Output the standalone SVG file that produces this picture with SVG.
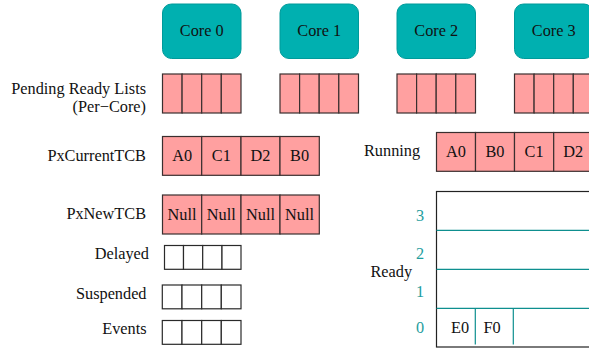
<svg xmlns="http://www.w3.org/2000/svg" width="589" height="351" viewBox="0 0 589 351">
  <style>
    text { font-family: 'Liberation Serif', 'DejaVu Serif', serif; font-size: 16.3px; fill: #111; }
    .mid { text-anchor: middle; }
    .end { text-anchor: end; }
    .idx { fill: #1f9e9e; text-anchor: middle; }
    .core { fill: #00b0b0; stroke: #009a9a; stroke-width: 1; }
    .cell { fill: #ffa0a0; stroke: #3a2f2f; stroke-width: 1.2; }
    .empty { fill: #ffffff; stroke: #2a2a2a; stroke-width: 1.2; }
    .lvl { stroke: #0e8f8f; stroke-width: 1.2; fill: none; }
    .frame { fill: #ffffff; stroke: #222; stroke-width: 1.2; }
  </style>

  <!-- CPU cores -->
  <g id="core0"><rect class="core" x="162.5" y="4" width="78.5" height="54.5" rx="9"/><text class="mid" x="201.7" y="36">Core 0</text></g>
  <g id="core1"><rect class="core" x="280" y="4" width="78.5" height="54.5" rx="9"/><text class="mid" x="319.2" y="36">Core 1</text></g>
  <g id="core2"><rect class="core" x="397" y="4" width="78.5" height="54.5" rx="9"/><text class="mid" x="436.2" y="36">Core 2</text></g>
  <g id="core3"><rect class="core" x="514.5" y="4" width="78.5" height="54.5" rx="9"/><text class="mid" x="553.7" y="36">Core 3</text></g>

  <!-- Pending ready lists, one per core -->
  <g id="pending-label">
    <text class="end" x="146" y="94">Pending Ready Lists</text>
    <text class="end" x="146" y="112">(Per−Core)</text>
  </g>
  <g id="pending0">
    <rect class="cell" x="162.5" y="74" width="19.6" height="39"/><rect class="cell" x="182.1" y="74" width="19.6" height="39"/>
    <rect class="cell" x="201.7" y="74" width="19.6" height="39"/><rect class="cell" x="221.3" y="74" width="19.7" height="39"/>
  </g>
  <g id="pending1">
    <rect class="cell" x="280" y="74" width="19.6" height="39"/><rect class="cell" x="299.6" y="74" width="19.6" height="39"/>
    <rect class="cell" x="319.2" y="74" width="19.6" height="39"/><rect class="cell" x="338.8" y="74" width="19.7" height="39"/>
  </g>
  <g id="pending2">
    <rect class="cell" x="397" y="74" width="19.6" height="39"/><rect class="cell" x="416.6" y="74" width="19.6" height="39"/>
    <rect class="cell" x="436.2" y="74" width="19.6" height="39"/><rect class="cell" x="455.8" y="74" width="19.7" height="39"/>
  </g>
  <g id="pending3">
    <rect class="cell" x="514.5" y="74" width="19.6" height="39"/><rect class="cell" x="534.1" y="74" width="19.6" height="39"/>
    <rect class="cell" x="553.7" y="74" width="19.6" height="39"/><rect class="cell" x="573.3" y="74" width="19.7" height="39"/>
  </g>

  <!-- Current TCB per core -->
  <g id="pxCurrentTCB">
    <text class="end" x="146" y="160.5">PxCurrentTCB</text>
    <rect class="cell" x="162.5" y="136.5" width="39.2" height="38.8"/><text class="mid" x="182.1" y="161">A0</text>
    <rect class="cell" x="201.7" y="136.5" width="39.3" height="38.8"/><text class="mid" x="221.3" y="161">C1</text>
    <rect class="cell" x="241" y="136.5" width="39" height="38.8"/><text class="mid" x="260.5" y="161">D2</text>
    <rect class="cell" x="280" y="136.5" width="39.3" height="38.8"/><text class="mid" x="299.6" y="161">B0</text>
  </g>

  <!-- Running list -->
  <g id="running">
    <text x="364" y="156">Running</text>
    <rect class="cell" x="436.5" y="132.5" width="39" height="38.8"/><text class="mid" x="456" y="157">A0</text>
    <rect class="cell" x="475.5" y="132.5" width="39" height="38.8"/><text class="mid" x="495" y="157">B0</text>
    <rect class="cell" x="514.5" y="132.5" width="39.2" height="38.8"/><text class="mid" x="534.1" y="157">C1</text>
    <rect class="cell" x="553.7" y="132.5" width="39.3" height="38.8"/><text class="mid" x="573.3" y="157">D2</text>
  </g>

  <!-- New TCB per core -->
  <g id="pxNewTCB">
    <text class="end" x="146" y="219">PxNewTCB</text>
    <rect class="cell" x="162.5" y="195" width="39.2" height="39"/><text class="mid" x="182.1" y="219.5">Null</text>
    <rect class="cell" x="201.7" y="195" width="39.3" height="39"/><text class="mid" x="221.3" y="219.5">Null</text>
    <rect class="cell" x="241" y="195" width="39" height="39"/><text class="mid" x="260.5" y="219.5">Null</text>
    <rect class="cell" x="280" y="195" width="39.3" height="39"/><text class="mid" x="299.6" y="219.5">Null</text>
  </g>

  <!-- Empty lists -->
  <g id="delayed">
    <text class="end" x="149" y="258.5">Delayed</text>
    <rect class="empty" x="164.5" y="245.5" width="19" height="23.8"/><rect class="empty" x="183.5" y="245.5" width="19.2" height="23.8"/>
    <rect class="empty" x="202.7" y="245.5" width="19.3" height="23.8"/><rect class="empty" x="222" y="245.5" width="19" height="23.8"/>
  </g>
  <g id="suspended">
    <text class="end" x="146.5" y="298.5">Suspended</text>
    <rect class="empty" x="162.3" y="285" width="19.7" height="23.8"/><rect class="empty" x="182" y="285" width="19.7" height="23.8"/>
    <rect class="empty" x="201.7" y="285" width="19.6" height="23.8"/><rect class="empty" x="221.3" y="285" width="19.7" height="23.8"/>
  </g>
  <g id="events">
    <text class="end" x="146.5" y="333.5">Events</text>
    <rect class="empty" x="162.3" y="320.5" width="19.7" height="23.8"/><rect class="empty" x="182" y="320.5" width="19.7" height="23.8"/>
    <rect class="empty" x="201.7" y="320.5" width="19.6" height="23.8"/><rect class="empty" x="221.3" y="320.5" width="19.7" height="23.8"/>
  </g>

  <!-- Ready lists by priority -->
  <g id="ready">
    <text x="370.5" y="276.7">Ready</text>
    <rect class="frame" x="436.5" y="191.5" width="160" height="155.5"/>
    <line class="lvl" x1="436.5" y1="230.3" x2="589" y2="230.3"/>
    <line class="lvl" x1="436.5" y1="269.3" x2="589" y2="269.3"/>
    <line class="lvl" x1="436.5" y1="308.3" x2="589" y2="308.3"/>
    <line class="lvl" x1="475.3" y1="308.3" x2="475.3" y2="344.5"/>
    <line class="lvl" x1="513.3" y1="308.3" x2="513.3" y2="344.5"/>
    <text class="idx" x="420" y="221">3</text>
    <text class="idx" x="420" y="259">2</text>
    <text class="idx" x="420" y="296.5">1</text>
    <text class="idx" x="420" y="333">0</text>
    <text class="mid" x="460" y="333">E0</text>
    <text class="mid" x="492" y="333">F0</text>
  </g>
</svg>
